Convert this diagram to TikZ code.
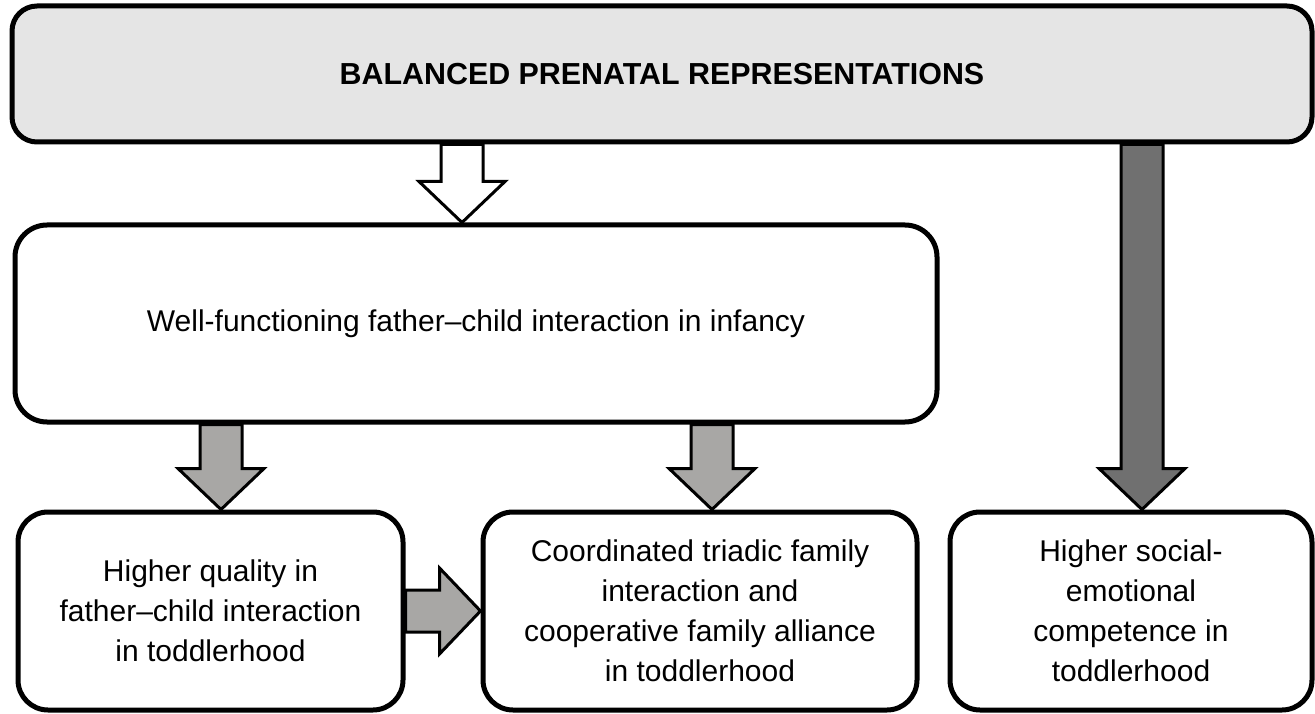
\documentclass[tikz,border=0pt]{standalone}
\usepackage{fontspec}
\setmainfont{Liberation Sans}
\usepackage{xcolor}
\usepackage{tikz}
\usetikzlibrary{positioning,calc}

\definecolor{topfill}{RGB}{229,229,229}
\definecolor{lightarrow}{RGB}{168,167,165}
\definecolor{darkarrow}{RGB}{112,112,112}

\tikzset{
  fat/.style={draw, line width=3pt, line join=miter, to path={
      ($(\tikztostart)!21pt!90:(\tikztotarget)$)
      -- ($(\tikztotarget)!41pt!(\tikztostart)!21pt!90:(\tikztotarget)$)
      -- ($(\tikztotarget)!41pt!(\tikztostart)!43pt!90:(\tikztotarget)$)
      -- (\tikztotarget)
      -- ($(\tikztotarget)!41pt!(\tikztostart)!43pt!-90:(\tikztotarget)$)
      -- ($(\tikztotarget)!41pt!(\tikztostart)!21pt!-90:(\tikztotarget)$)
      -- ($(\tikztostart)!21pt!-90:(\tikztotarget)$) -- cycle}},
}

\begin{document}
\begin{tikzpicture}[x=1pt, y=-1pt,
    box/.style={draw, line width=5pt, rounded corners=30pt, fill=white, inner sep=0pt,
      align=center, font=\fontsize{30}{40}\selectfont},
    node distance=75pt]
  \useasboundingbox (0,0) rectangle (1315,714);

  \node[box, fill=topfill, rounded corners=25pt, minimum width=1300pt, minimum height=136pt,
    font=\fontsize{30.4}{40}\selectfont\bfseries] (prenatal) at (662,74) {BALANCED PRENATAL REPRESENTATIONS};
  \node[box, rounded corners=32pt, minimum width=922pt, minimum height=197pt] (infancy) at (476,323.5)
    {Well-functioning father–child interaction in infancy};

  \node[box, minimum width=385pt, minimum height=198pt] (fctodd) at (210.5,611)
    {Higher quality in\\father–child interaction\\in toddlerhood};
  \node[box, minimum width=434pt, minimum height=198pt] (triadic) [right=of fctodd]
    {Coordinated triadic family\\interaction and\\cooperative family alliance\\in toddlerhood};
  \node[box, minimum width=362pt, minimum height=198pt] (social) [right=28pt of triadic]
    {Higher social-\\emotional\\competence in\\toddlerhood};

  % arrow axes
  \coordinate (hollowx) at (462,0);
  \coordinate (leftx) at (221,0);
  \coordinate (midx) at (712,0);
  \coordinate (rightx) at (1142,0);

  \draw[fat, fill=white] (prenatal.south -| hollowx) to (infancy.north -| hollowx);
  \draw[fat, fill=lightarrow] (infancy.south -| leftx) to (fctodd.north -| leftx);
  \draw[fat, fill=lightarrow] (infancy.south -| midx) to (triadic.north -| midx);
  \draw[fat, fill=lightarrow] (fctodd.east) to (triadic.west |- fctodd.east);
  \draw[fat, fill=darkarrow] (prenatal.south -| rightx) to (social.north -| rightx);
\end{tikzpicture}
\end{document}
